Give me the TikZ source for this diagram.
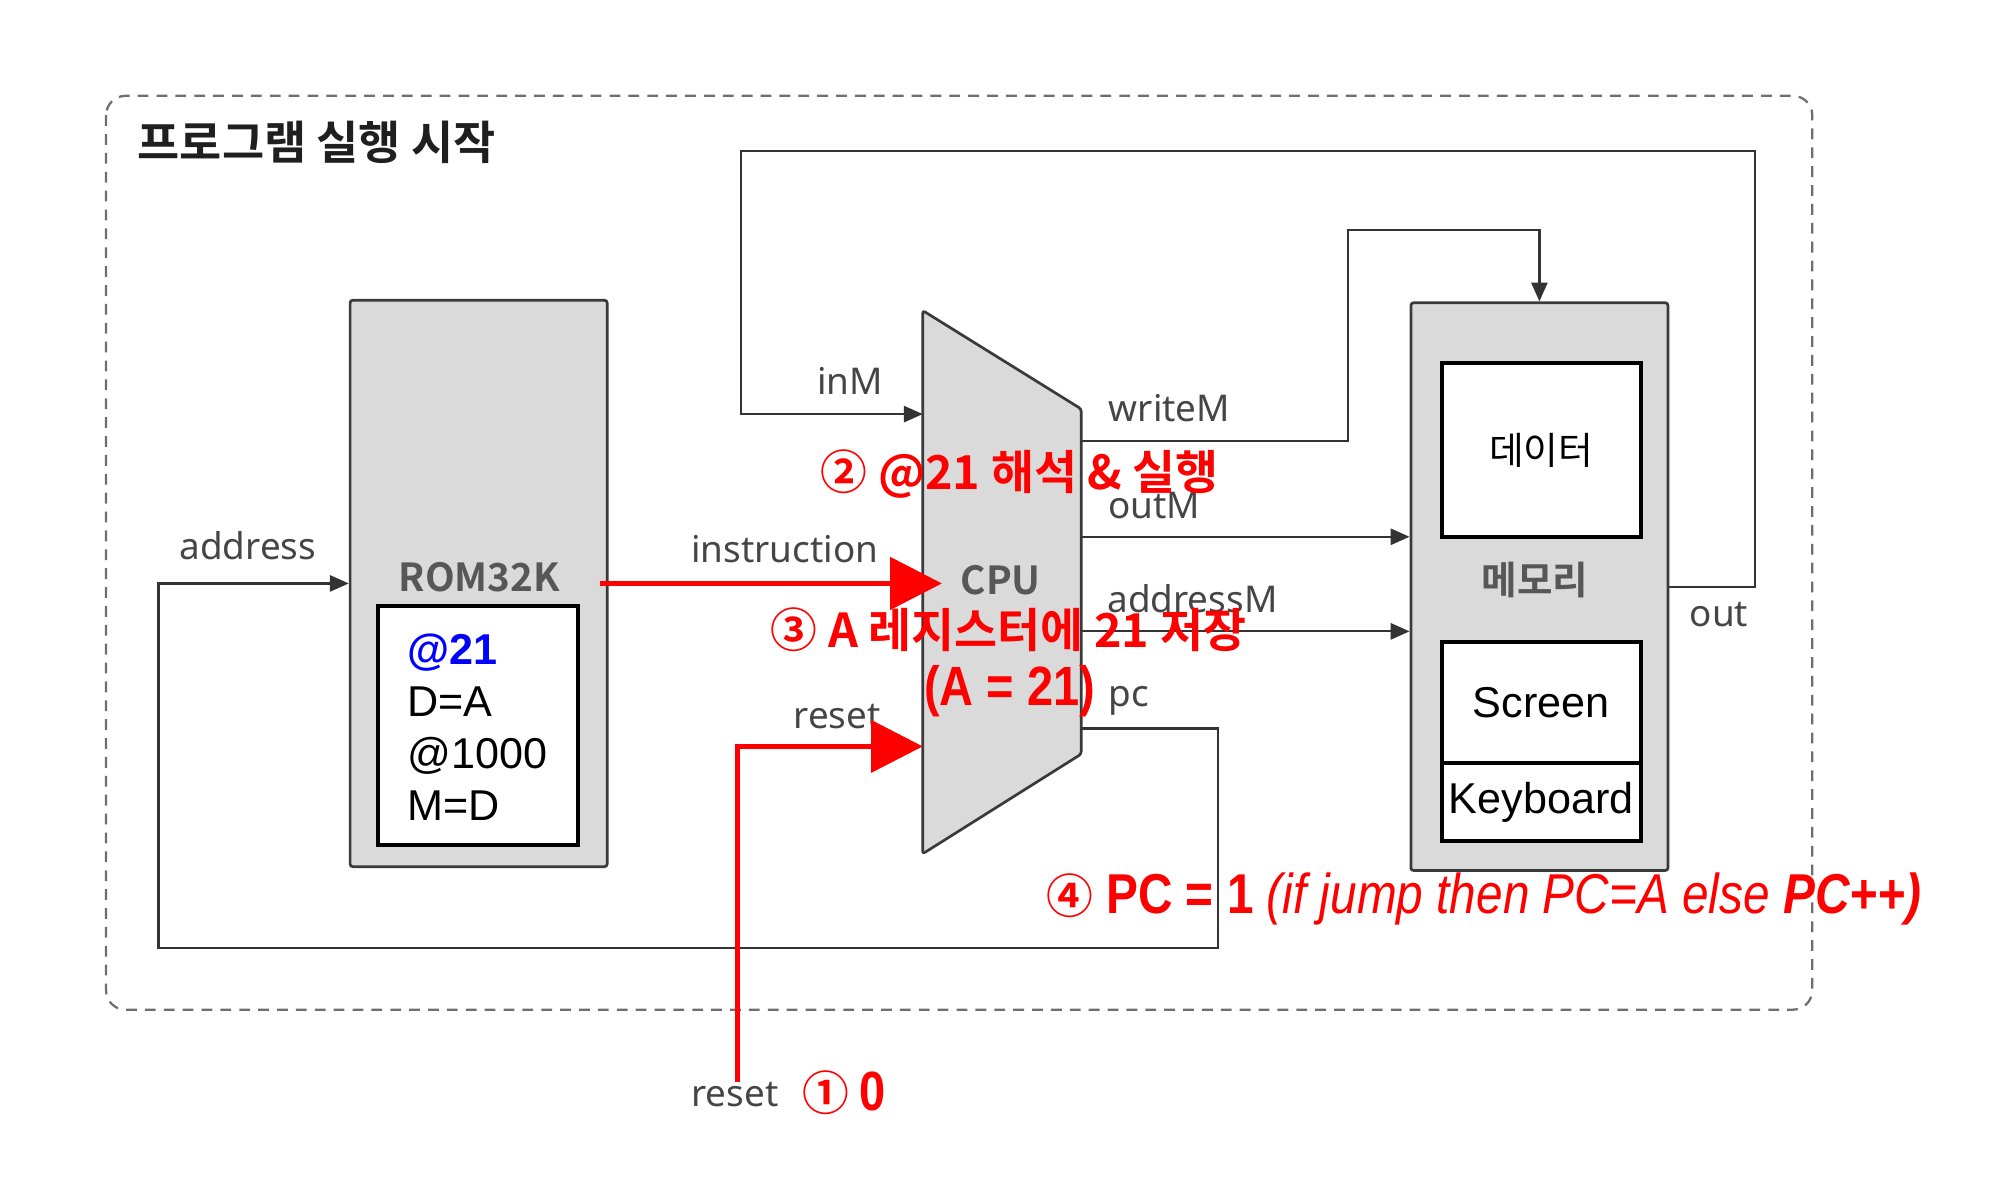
\documentclass[tikz,border=0pt]{standalone}
\usepackage{fontspec}
\setmainfont{Noto Sans}
\newfontfamily\krfont{Noto Sans CJK KR}
\newfontfamily\krbold{Noto Sans CJK KR Bold}
\newfontfamily\codefont{Liberation Sans}
\newfontfamily\narrowfont{Liberation Sans}[FakeStretch=0.85]
\usepackage{tikz}
\usetikzlibrary{arrows.meta,calc,positioning}

\definecolor{chipfill}{HTML}{DADADA}
\definecolor{chipline}{HTML}{3A3A3A}
\definecolor{wiregray}{HTML}{333333}
\definecolor{labelgray}{HTML}{454545}
\definecolor{framegray}{HTML}{6E6E6E}
\definecolor{hotred}{HTML}{FF0000}
\definecolor{codeblue}{HTML}{0000FF}

\tikzset{
  chip/.style={draw=chipline, fill=chipfill, line width=0.6pt, rounded corners=0.6pt, inner sep=0pt},
  slot/.style={draw=black, fill=white, line width=0.9pt, inner sep=0pt, minimum width=1.56cm,
    font=\codefont\fontsize{9.6}{11.6}\selectfont},
  portlabel/.style={text=labelgray, inner sep=0pt, anchor=base, font=\fontsize{8.2}{10}\selectfont},
  chipname/.style={portlabel, text=black!66, font=\krbold\fontsize{8.6}{10}\selectfont},
  wire/.style={draw=wiregray, line width=0.5pt},
  smallhead/.style={-{Triangle[length=4.2pt,width=3.6pt]}},
  hotwire/.style={draw=hotred, line width=1.2pt, -{Triangle[length=11.5pt,width=11.5pt]}},
  hotnote/.style={text=hotred, inner sep=0pt, font=\krbold\fontsize{10.4}{12}\selectfont},
  runframe/.style={draw=framegray, line width=0.5pt, dash pattern=on 2.4pt off 1.8pt, rounded corners=4.3pt}
}

\begin{document}
\begin{tikzpicture}[x=0.01cm, y=-0.01cm]
  \newcommand\chipw{2.01cm}   % ROM / memory width
  \newcommand\slotw{1.56cm}   % inner boxes

  \useasboundingbox (0,0) rectangle (1568,939);

  % Frame
  \draw[runframe] (83,75) rectangle (1418,790);
  \node[anchor=west, inner sep=0pt, font=\krbold\fontsize{10.2}{12}\selectfont, text=black!88] (title) at (107,111) {프로그램 실행 시작};

  % Chips
  \node[chip, minimum width=\chipw, minimum height=4.43cm] (rom) at (374.5,456.5) {};
  \node[chip, minimum width=\chipw, minimum height=4.44cm] (mem) at (1204.5,459) {};
  \coordinate (cpunw) at (722,243);
  \coordinate (cpune) at (846,320);
  \coordinate (cpuse) at (846,590);
  \coordinate (cpusw) at (722,668);
  \filldraw[chip] (cpunw) -- (cpune) -- (cpuse) -- (cpusw) -- cycle;

  \node[chipname] (romname) at (375,463) {ROM32K};
  \node[chipname] (cpuname) at (783,465) {CPU};
  \node[chipname] (memname) at (1201,465) {메모리};

  % Program in ROM
  \node[slot, minimum width=\slotw, minimum height=1.87cm] (code) at (374,567.5) {};
  \node[anchor=west, align=left, inner sep=0pt, font=\codefont\fontsize{9.6}{11.6}\selectfont] (program) at (318,569)
    {\textcolor{codeblue}{\bfseries @21}\\D=A\\@1000\\M=D};

  % Memory parts
  \node[slot, minimum height=1.36cm, font=\krfont\fontsize{8.4}{10}\selectfont] (data) at (1206,352) {데이터};
  \node[slot, minimum height=0.95cm] (screen) at (1206,549.5) {Screen};
  \node[slot, minimum height=0.61cm, below=-0.9pt of screen] (keyboard) {Keyboard};

  % Ports
  \coordinate (inMin) at (722,324);
  \coordinate (instrin) at (737,457);
  \coordinate (resetin) at (722,584);
  \coordinate (writeMout) at (846,345);
  \coordinate (outMout) at (846,420);
  \coordinate (addrMout) at (846,494);
  \coordinate (pcout) at (846,570);
  \coordinate (outtop) at (1373,118);
  \coordinate (inMbend) at (580,324);
  \coordinate (writeMbend) at (1055,180);
  \coordinate (pcbend) at (953,742);
  \coordinate (addrbend) at (124,742);

  % Wires
  \draw[wire, smallhead] (mem.east) -| (outtop) -| (inMbend) -- (inMin);
  \draw[wire, smallhead] (writeMout) -| (writeMbend) -| (mem.north);
  \draw[wire, smallhead] (outMout) -- (mem.west |- outMout);
  \draw[wire, smallhead] (addrMout) -- (mem.west |- addrMout);
  \draw[wire, smallhead] (pcout) -| (pcbend) -- (addrbend) |- (rom.west);

  \node[portlabel] (addrlbl) at (194,438) {address};
  \node[portlabel] (instrlbl) at (614,440) {instruction};
  \node[portlabel] (inMlbl) at (665,309) {inM};
  \node[portlabel] (writeMlbl) at (915,330) {writeM};
  \node[portlabel] (outMlbl) at (903,406) {outM};
  \node[portlabel] (addrMlbl) at (933,479) {addressM};
  \node[portlabel] (resetlbl) at (655,570) {reset};
  \node[portlabel] (pclbl) at (883,553) {pc};
  \node[portlabel] (outlbl) at (1345,490) {out};
  \node[portlabel] (resetpin) at (575,866) {reset};

  % Steps
  \draw[hotwire] ([xshift=-0.07cm]rom.east) -- (rom.east -| instrin);
  \draw[hotwire] ([xshift=0.02cm]resetpin.north) |- (resetin);

  \node[hotnote] (decode) at (798,371) {② @21 해석 \& 실행};
  \node[hotnote] (store) at (789,493) {③ A 레지스터에 21 저장};
  \node[hotnote, font=\narrowfont\bfseries\fontsize{12.3}{14}\selectfont] (areg) at (790,541) {(A = 21)};
  \node[hotnote, anchor=west, font=\narrowfont\fontsize{12.5}{14}\selectfont] (pcnote) at (818,703)
    {{\krbold\fontsize{10.4}{12}\selectfont ④} {\bfseries PC = 1} {\itshape (if jump then PC=A else} {\bfseries\itshape PC++)}};
  \node[hotnote, anchor=west] (resetval) at (627,855)
    {{\krbold ①} {\narrowfont\bfseries\fontsize{12.3}{14}\selectfont 0}};

\end{tikzpicture}
\end{document}
